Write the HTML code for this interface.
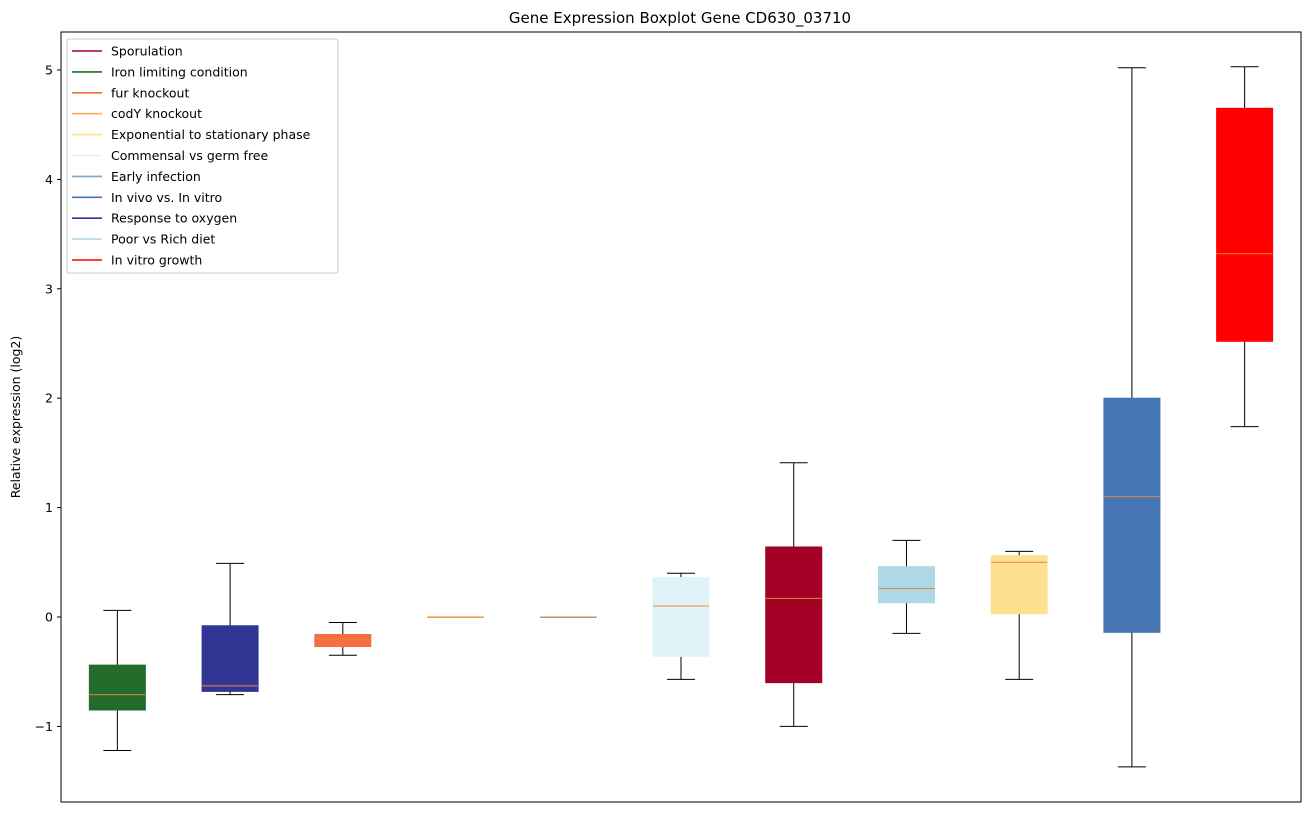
<!DOCTYPE html>
<html><head><meta charset="utf-8"><style>
body{margin:0;background:#fff;font-family:"Liberation Sans","DejaVu Sans",sans-serif;}
svg text{font-family:"DejaVu Sans","Liberation Sans",sans-serif;}
</style></head><body>
<svg id="chart" width="1309" height="812" xmlns="http://www.w3.org/2000/svg">
<text x="680" y="23" text-anchor="middle" font-size="15">Gene Expression Boxplot Gene CD630_03710</text>
<text transform="translate(20,417) rotate(-90)" text-anchor="middle" font-size="12.5">Relative expression (log2)</text>
<g id="boxes"></g>
<g id="yticks"></g>
<rect x="61" y="32" width="1240" height="770" fill="none" stroke="#000" stroke-width="1"/>
<g id="legend"></g>
</svg>
<script>
const categories=["Iron limiting condition","Response to oxygen","fur knockout","codY knockout","Early infection","Commensal vs germ free","Sporulation","Poor vs Rich diet","Exponential to stationary phase","In vivo vs. In vitro","In vitro growth"];
const boxColors=["#226b2b","#313695","#f46d43","#fdae61","#74add1","#e0f3f8","#a50026","#add8e6","#fee090","#4575b4","#ff0000"];
const whiskerLow=[-1.22,-0.71,-0.35,0,0,-0.57,-1.0,-0.15,-0.57,-1.37,1.74];
const q1=[-0.85,-0.68,-0.27,0,0,-0.36,-0.60,0.13,0.03,-0.14,2.52];
const medians=[-0.71,-0.63,-0.20,0,0,0.10,0.17,0.26,0.50,1.10,3.32];
const q3=[-0.44,-0.08,-0.16,0,0,0.36,0.64,0.46,0.56,2.00,4.65];
const whiskerHigh=[0.06,0.49,-0.05,0,0,0.40,1.41,0.70,0.60,5.02,5.03];
const yTicks=[-1,0,1,2,3,4,5];
const legendLabels=["Sporulation","Iron limiting condition","fur knockout","codY knockout","Exponential to stationary phase","Commensal vs germ free","Early infection","In vivo vs. In vitro","Response to oxygen","Poor vs Rich diet","In vitro growth"];
const legendColors=["#a50026","#226b2b","#f46d43","#fdae61","#fee090","#e0f3f8","#74add1","#4575b4","#313695","#add8e6","#ff0000"];

const NS="http://www.w3.org/2000/svg";
const X0=61,X1=1301,Y0=32,Y1=802;
const xmin=0.5,xmax=categories.length+0.5;
const ymin=-1.69,ymax=5.35;
function sx(i){return X0+(i+1-xmin)/(xmax-xmin)*(X1-X0);}
function sy(v){return 617-v*109.4;}
function mk(tag,attrs,parent){const e=document.createElementNS(NS,tag);for(const k in attrs)e.setAttribute(k,attrs[k]);parent.appendChild(e);return e;}
const gB=document.getElementById('boxes');
const hw=28,cw=14;
categories.forEach((c,i)=>{
  const g=mk('g',{},gB);
  
  
  const x=sx(i);
  const lw=mk('line',{x1:x,x2:x,y1:sy(whiskerLow[i]),y2:sy(q1[i]),stroke:'#000'},g);
  const hwl=mk('line',{x1:x,x2:x,y1:sy(q3[i]),y2:sy(whiskerHigh[i]),stroke:'#000'},g);
  mk('line',{x1:x-cw,x2:x+cw,y1:sy(whiskerLow[i]),y2:sy(whiskerLow[i]),stroke:'#000'},g);
  mk('line',{x1:x-cw,x2:x+cw,y1:sy(whiskerHigh[i]),y2:sy(whiskerHigh[i]),stroke:'#000'},g);
  const h=Math.max(sy(q1[i])-sy(q3[i]),0.5);
  mk('rect',{x:x-hw,y:sy(q3[i]),width:2*hw,height:h,fill:boxColors[i],stroke:boxColors[i],'stroke-width':1},g);
  mk('line',{x1:x-hw,x2:x+hw,y1:sy(medians[i]),y2:sy(medians[i]),stroke:'#e08a3a','stroke-width':1},g);
});
const gT=document.getElementById('yticks');
yTicks.forEach(t=>{
  const y=sy(t);
  const l=mk('line',{x1:X0-4,x2:X0,y1:y,y2:y,stroke:'#000'},gT);
  
  
  const tx=mk('text',{x:X0-8,y:y+4.5,'text-anchor':'end','font-size':'12.5'},gT);
  tx.textContent=t<0?'\u2212'+Math.abs(t):String(t);
  
  
});
const gL=document.getElementById('legend');


mk('rect',{x:67,y:39,width:271,height:234,rx:2,fill:'#fff','fill-opacity':0.85,stroke:'#ccc'},gL);
legendLabels.forEach((lab,i)=>{
  const y=51+i*20.9;
  const g=mk('g',{},gL);
  
  
  mk('line',{x1:72,x2:102,y1:y,y2:y,stroke:legendColors[i],'stroke-width':1.6},g);
  const t=mk('text',{x:111,y:y+4.5,'font-size':'12.5'},g);
  t.textContent=lab;
});
</script>
</body></html>
